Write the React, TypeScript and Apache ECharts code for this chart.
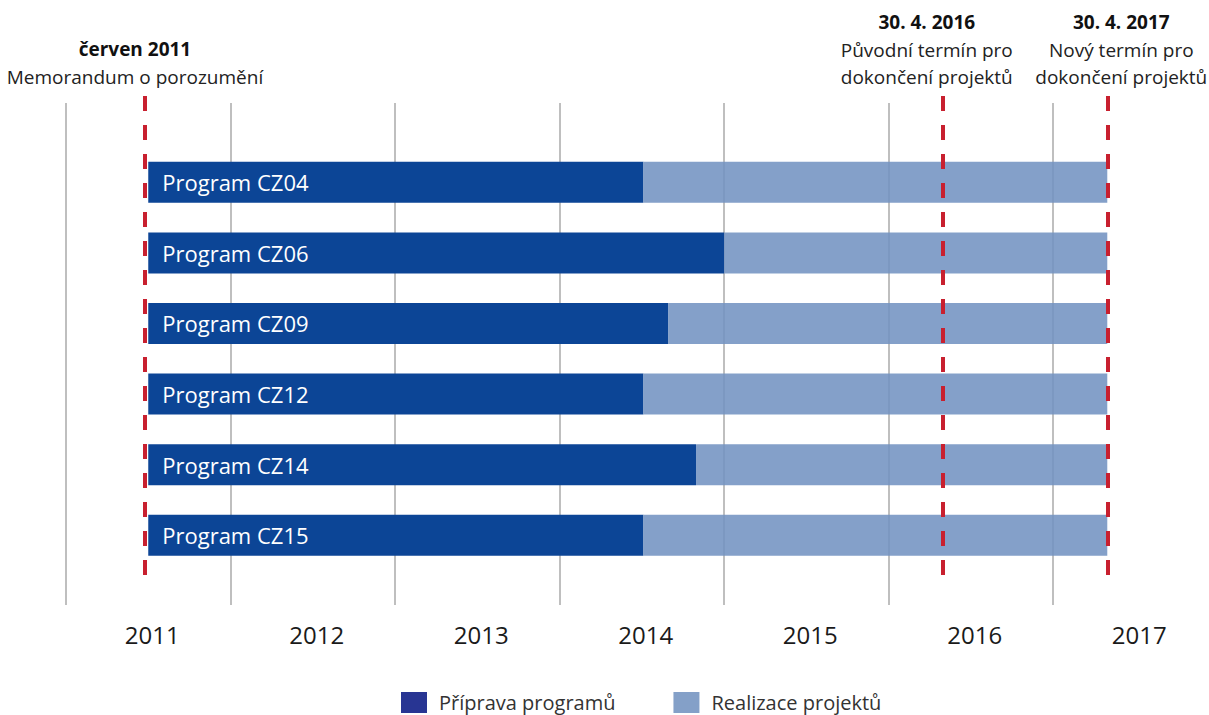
import React, { useEffect, useRef } from "react";
import * as echarts from "echarts";

const programs = [
  "Program CZ04",
  "Program CZ06",
  "Program CZ09",
  "Program CZ12",
  "Program CZ14",
  "Program CZ15",
];
const prepStart = [2011.5, 2011.5, 2011.5, 2011.5, 2011.5, 2011.5];
const prepEnd = [2014.51, 2015.0, 2014.66, 2014.51, 2014.83, 2014.51];
const projectEnd = [2017.33, 2017.33, 2017.33, 2017.33, 2017.33, 2017.33];

const years = [2011, 2012, 2013, 2014, 2015, 2016, 2017];
const yearLabels = ["2011", "2012", "2013", "2014", "2015", "2016", "2017"];

const milestoneValues = [2011.48, 2016.33, 2017.33];
const milestoneDates = ["červen 2011", "30. 4. 2016", "30. 4. 2017"];
const milestoneTexts = [
  ["Memorandum o porozumění"],
  ["Původní termín pro", "dokončení projektů"],
  ["Nový termín pro", "dokončení projektů"],
];
const milestonePadding = [
  [0, 20, 0, 0],
  [0, 32, 0, 0],
  [0, 0, 0, 28],
];

const legendNames = ["Příprava programů", "Realizace projektů"];

const FONT = "'Open Sans', sans-serif";
const DARK = "#0C4596";
const LIGHT = "rgba(115,147,193,0.88)";
const LEGEND_DARK = "#283593";
const LEGEND_LIGHT = "#84A0C8";
const RED = "#C8202F";

export default function App() {
  const ref = useRef<HTMLDivElement>(null);

  useEffect(() => {
    if (!ref.current) return;
    const chart = echarts.init(ref.current, undefined, { renderer: "svg" });

    const xBase = { type: "value", min: 2011, max: 2018, interval: 1 };
    const gridSide = { left: 66, width: 1151.5, outerBoundsMode: "none", containLabel: false };

    const option: any = {
      animation: false,
      textStyle: { fontFamily: FONT },
      grid: [
        { ...gridSide, top: 103, bottom: 110 },
        { ...gridSide, top: 147, height: 423.5 },
        { ...gridSide, top: 95, bottom: 140 },
      ],
      xAxis: [
        {
          ...xBase,
          gridIndex: 0,
          axisLine: { show: false },
          axisTick: { show: false },
          splitLine: { show: true, lineStyle: { color: "#BFBFBF", width: 2 } },
          axisLabel: {
            customValues: years.map((y) => y + 0.5),
            formatter: (v: number) => yearLabels[years.indexOf(Math.floor(v))],
            fontSize: 24,
            color: "#1a1a1a",
            margin: 17,
            padding: [0, 0, 0, 8],
            fontFamily: FONT,
          },
        },
        { ...xBase, gridIndex: 1, show: false, splitLine: { show: false } },
        { ...xBase, gridIndex: 2, show: false, splitLine: { show: false } },
      ],
      yAxis: [
        { type: "value", gridIndex: 0, min: 0, max: 1, show: false, splitLine: { show: false } },
        {
          type: "category",
          gridIndex: 1,
          data: programs,
          inverse: true,
          show: false,
        },
        { type: "value", gridIndex: 2, min: 0, max: 1, show: false, splitLine: { show: false } },
      ],
      legend: {
        left: 396,
        top: 687,
        itemWidth: 26,
        itemHeight: 21,
        itemGap: 58,
        icon: "rect",
        textStyle: {
          fontSize: 20,
          lineHeight: 21,
          color: "#333",
          fontFamily: FONT,
          padding: [0, 0, 0, 7],
        },
        data: [
          { name: legendNames[0], itemStyle: { color: LEGEND_DARK } },
          { name: legendNames[1], itemStyle: { color: LEGEND_LIGHT } },
        ],
      },
      series: [
        {
          name: "base",
          type: "bar",
          stack: "t",
          xAxisIndex: 1,
          yAxisIndex: 1,
          barWidth: 41,
          silent: true,
          itemStyle: { color: "transparent" },
          data: prepStart,
        },
        {
          name: legendNames[0],
          type: "bar",
          stack: "t",
          xAxisIndex: 1,
          yAxisIndex: 1,
          barWidth: 41,
          itemStyle: { color: DARK },
          label: {
            show: true,
            position: "insideLeft",
            distance: 14,
            formatter: (p: any) => p.name,
            color: "#fff",
            fontSize: 22,
            fontFamily: FONT,
          },
          data: prepEnd.map((e, i) => +(e - prepStart[i]).toFixed(4)),
        },
        {
          name: legendNames[1],
          type: "bar",
          stack: "t",
          xAxisIndex: 1,
          yAxisIndex: 1,
          barWidth: 41,
          itemStyle: { color: LIGHT },
          data: projectEnd.map((e, i) => +(e - prepEnd[i]).toFixed(4)),
        },
        {
          name: "milestones",
          type: "line",
          xAxisIndex: 2,
          yAxisIndex: 2,
          data: [],
          silent: true,
          markLine: {
            silent: true,
            symbol: ["none", "none"],
            lineStyle: { color: RED, width: 4, type: [15, 14] },
            data: milestoneValues.map((v, i) => ({
              xAxis: v,
              label: {
                show: true,
                position: "end",
                distance: 5,
                padding: milestonePadding[i],
                formatter:
                  "{b|" + milestoneDates[i] + "}\n" +
                  milestoneTexts[i].map((t) => "{r|" + t + "}").join("\n"),
                rich: {
                  b: { fontWeight: "bold", fontSize: 19, lineHeight: 28, color: "#111", fontFamily: FONT },
                  r: { fontSize: 19, lineHeight: 27, color: "#222", fontFamily: FONT },
                },
              },
            })),
          },
        },
      ],
    };

    chart.setOption(option);
    return () => chart.dispose();
  }, []);

  return (
    <div
      ref={ref}
      style={{ position: "fixed", left: 0, top: 0, width: 1209, height: 715, background: "#fff" }}
    />
  );
}
